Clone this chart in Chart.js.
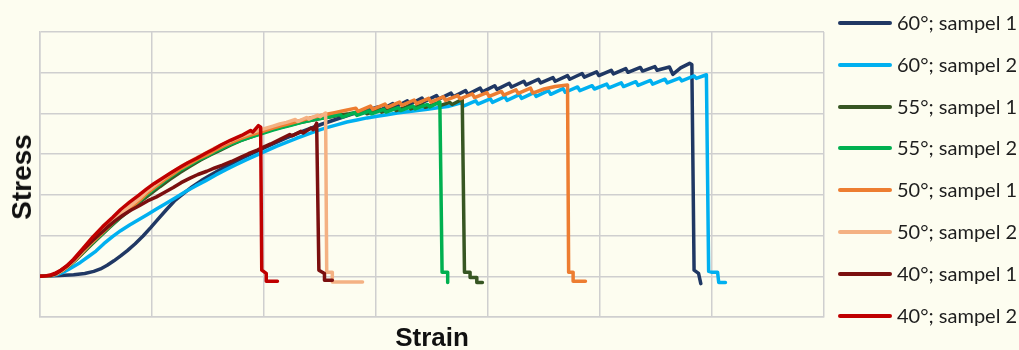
<!DOCTYPE html>
<html>
<head>
<meta charset="utf-8">
<script src="https://cdn.jsdelivr.net/npm/chart.js@4/dist/chart.umd.min.js"></script>
<style>
  body { margin:0; background:#fdfdf0; }
  #wrap { position:relative; width:1019px; height:350px; overflow:hidden; }
  #grafica { position:absolute; left:0; top:0; }
  .ttl { position:absolute; font-family:"Liberation Sans", Arial, sans-serif; font-weight:bold; color:#111; white-space:nowrap; }
  #legend { position:absolute; left:838px; top:0; font-family:Lato, "Noto Sans", sans-serif; font-size:20px; color:#1e1e1e; }
  .item { position:absolute; left:0; height:20px; white-space:nowrap; }
  .item span.ln { position:absolute; left:0; top:8px; width:54px; height:4px; border-radius:2px; }
  .item span.tx { position:absolute; left:59px; top:-3px; line-height:24px; }
</style>
</head>
<body>
<div id="wrap">
  <canvas id="grafica" width="1019" height="350"></canvas>
  <div class="ttl" id="ytitle" style="font-size:28px; left:22px; top:177px; transform:translate(-50%,-50%) rotate(-90deg);">Stress</div>
  <div class="ttl" id="xtitle" style="font-size:26px; left:432px; top:337px; transform:translate(-50%,-50%);">Strain</div>
  <div id="legend"></div>
</div>
<script>
// series names and colours (legend order)
const nombres = ["60°; sampel 1","60°; sampel 2","55°; sampel 1","55°; sampel 2","50°; sampel 1","50°; sampel 2","40°; sampel 1","40°; sampel 2"];
const colores = ["#203864","#00b0f0","#375623","#00b050","#ed7d31","#f4b183","#7b0f0f","#c00000"];

// 60° sampel 1
const strain60a = [0,0.18,0.30,0.40,0.48,0.54,0.60,0.66,0.72,0.78,0.85,0.92,0.99,1.06,1.13,1.20,1.28,1.36,1.44,1.52,1.61,1.70,1.79,1.88,
  2.04,2.20,2.36,2.52,2.66,2.78,2.90,
  3.02,3.04,3.15,3.17,3.28,3.30,3.41,3.43,3.54,3.56,3.67,3.69,3.80,3.82,3.93,3.95,4.06,4.08,4.19,4.21,4.32,4.34,4.45,4.47,
  4.58,4.60,4.71,4.73,4.84,4.86,4.97,4.99,5.10,5.12,5.23,5.25,5.36,5.38,5.49,5.51,5.62,5.65,5.72,5.80,5.82,5.84,5.88,5.90];
const stress60a = [0,0.02,0.04,0.07,0.12,0.18,0.27,0.38,0.50,0.63,0.80,0.99,1.20,1.42,1.64,1.85,2.03,2.20,2.35,2.48,2.62,2.75,2.88,3.00,
  3.20,3.40,3.58,3.74,3.87,3.98,4.07,
  4.16,4.08,4.24,4.15,4.31,4.22,4.38,4.29,4.44,4.35,4.50,4.41,4.56,4.47,4.62,4.53,4.68,4.59,4.74,4.65,4.79,4.70,4.84,4.75,
  4.88,4.79,4.93,4.84,4.98,4.89,5.02,4.93,5.06,4.97,5.10,5.01,5.13,5.04,5.15,5.06,5.14,4.96,5.12,5.23,5.20,0.15,0.07,-0.18];

// 60° sampel 2
const strain60b = [0,0.10,0.15,0.20,0.25,0.30,0.36,0.43,0.50,0.57,0.65,0.72,0.80,0.88,0.96,1.04,1.12,1.21,1.30,1.39,1.48,1.57,1.66,1.75,1.84,1.93,
  2.02,2.11,2.20,2.29,2.38,2.47,2.56,2.65,2.74,2.83,2.92,3.01,3.10,3.19,3.28,3.37,3.46,3.55,3.64,
  3.76,3.78,3.89,3.91,4.02,4.04,4.15,4.17,4.28,4.30,4.41,4.43,4.54,4.56,4.67,4.69,4.80,4.82,4.93,4.95,5.06,5.08,
  5.19,5.21,5.32,5.34,5.45,5.47,5.58,5.60,5.71,5.73,5.84,5.86,5.95,5.97,6.00,6.05,6.06,6.12];
const stress60b = [0,0.01,0.04,0.09,0.16,0.24,0.34,0.48,0.62,0.80,0.98,1.12,1.26,1.39,1.52,1.65,1.78,1.93,2.08,2.22,2.35,2.49,2.62,2.74,2.86,2.97,
  3.08,3.19,3.29,3.39,3.48,3.57,3.65,3.72,3.79,3.84,3.89,3.93,3.97,4.01,4.04,4.07,4.10,4.14,4.17,
  4.26,4.18,4.31,4.23,4.36,4.27,4.41,4.32,4.46,4.37,4.51,4.42,4.56,4.47,4.61,4.52,4.65,4.56,4.68,4.60,4.72,4.63,
  4.75,4.66,4.78,4.69,4.81,4.72,4.84,4.75,4.87,4.80,4.92,4.86,4.95,0.12,0.10,0.10,-0.15,-0.15];

// 55° sampel 1
const strain55a = [0,0.05,0.10,0.15,0.20,0.26,0.32,0.39,0.46,0.54,0.62,0.71,0.80,0.89,0.98,1.07,1.16,1.25,1.34,1.43,1.52,1.61,1.70,1.79,1.88,1.97,
  2.06,2.15,2.24,2.33,2.42,2.51,2.60,2.68,2.76,
  2.90,2.92,3.03,3.05,3.16,3.18,3.29,3.31,3.42,3.44,3.55,3.57,3.66,3.68,3.77,3.79,3.84,3.84,3.90,3.90,3.95];
const stress55a = [0,0.01,0.02,0.06,0.14,0.26,0.40,0.59,0.78,0.99,1.20,1.42,1.62,1.82,2.01,2.20,2.38,2.55,2.70,2.85,2.98,3.10,3.22,3.33,3.42,3.51,
  3.59,3.66,3.72,3.78,3.83,3.88,3.92,3.96,3.99,
  4.06,3.99,4.10,4.03,4.14,4.07,4.18,4.11,4.22,4.15,4.26,4.19,4.27,4.22,4.35,0.10,0.10,-0.03,-0.03,-0.15,-0.15];

// 55° sampel 2
const strain55b = [0,0.05,0.10,0.15,0.20,0.26,0.32,0.39,0.46,0.53,0.60,0.67,0.75,0.82,0.89,0.96,1.04,1.11,1.19,1.26,1.34,1.41,1.49,1.56,1.64,1.71,
  1.79,1.86,1.94,2.01,2.08,2.16,2.24,2.32,2.40,2.48,2.56,
  2.68,2.70,2.81,2.83,2.94,2.96,3.07,3.09,3.20,3.22,3.33,3.35,3.46,3.48,3.57,3.59,3.64,3.64];
const stress55b = [0,0.01,0.02,0.06,0.14,0.26,0.41,0.61,0.80,0.98,1.16,1.34,1.53,1.69,1.85,2.02,2.19,2.34,2.49,2.62,2.74,2.85,2.95,3.06,3.16,3.25,
  3.33,3.40,3.47,3.53,3.59,3.65,3.71,3.77,3.82,3.86,3.90,
  3.98,3.91,4.02,3.95,4.06,3.99,4.10,4.03,4.14,4.07,4.18,4.11,4.22,4.16,4.28,0.10,0.10,-0.15];

// 50° sampel 1
const strain50a = [0,0.05,0.10,0.15,0.20,0.26,0.32,0.39,0.46,0.53,0.60,0.67,0.75,0.82,0.89,0.96,1.04,1.11,1.19,1.26,1.34,1.41,1.49,1.56,1.64,1.71,
  1.79,1.86,1.94,2.01,2.08,2.16,2.24,2.32,2.40,2.48,2.56,2.63,2.70,
  2.82,2.84,2.95,2.97,3.08,3.10,3.21,3.23,3.34,3.36,3.47,3.49,3.60,3.62,3.73,3.75,3.86,3.88,3.99,4.01,4.12,4.14,
  4.25,4.27,4.38,4.40,4.50,4.60,4.71,4.72,4.76,4.76,4.87];
const stress50a = [0,0.01,0.02,0.06,0.14,0.27,0.42,0.62,0.82,1.00,1.18,1.37,1.55,1.71,1.87,2.05,2.22,2.37,2.52,2.65,2.77,2.88,2.98,3.09,3.20,3.29,
  3.38,3.45,3.52,3.58,3.64,3.70,3.76,3.82,3.88,3.93,3.98,4.02,4.06,
  4.13,4.05,4.18,4.10,4.23,4.15,4.28,4.20,4.33,4.24,4.37,4.28,4.41,4.32,4.44,4.36,4.48,4.39,4.51,4.42,4.54,4.45,
  4.58,4.49,4.62,4.50,4.60,4.66,4.70,0.10,0.10,-0.12,-0.12];

// 50° sampel 2
const strain50b = [0,0.05,0.10,0.15,0.20,0.26,0.32,0.39,0.46,0.53,0.60,0.67,0.75,0.82,0.89,0.96,1.04,1.11,1.19,1.26,1.34,1.41,1.49,1.56,1.64,1.71,
  1.79,1.86,1.94,2.01,2.08,2.14,2.20,
  2.28,2.30,2.38,2.40,2.48,2.50,2.55,2.56,2.61,2.61,2.88];
const stress50b = [0,0.01,0.02,0.06,0.15,0.28,0.44,0.65,0.85,1.04,1.22,1.41,1.60,1.76,1.92,2.10,2.27,2.42,2.57,2.70,2.82,2.93,3.04,3.15,3.25,3.34,
  3.43,3.50,3.57,3.63,3.69,3.74,3.78,
  3.85,3.80,3.90,3.86,3.96,3.92,4.01,0.10,0.10,-0.14,-0.14];

// 40° sampel 1
const strain40a = [0,0.05,0.10,0.14,0.18,0.24,0.30,0.38,0.47,0.54,0.60,0.67,0.74,0.81,0.89,0.96,1.04,1.11,1.19,1.26,1.34,1.41,1.49,1.56,1.63,1.71,
  1.79,1.86,1.94,2.00,2.06,2.14,
  2.23,2.25,2.33,2.35,2.42,2.44,2.47,2.49,2.54,2.54,2.61];
const stress40a = [0,0.01,0.02,0.06,0.13,0.25,0.40,0.64,0.88,1.05,1.20,1.36,1.50,1.62,1.74,1.85,1.95,2.06,2.18,2.30,2.41,2.50,2.58,2.66,2.73,2.82,
  2.92,3.01,3.10,3.18,3.25,3.36,
  3.48,3.45,3.56,3.52,3.64,3.60,3.76,0.15,0.07,-0.10,-0.10];

// 40° sampel 2
const strain40b = [0,0.05,0.09,0.13,0.18,0.24,0.30,0.38,0.47,0.56,0.65,0.72,0.80,0.88,0.95,1.02,1.10,1.18,1.25,1.32,1.40,1.48,1.55,1.62,1.70,1.80,
  1.88,1.90,1.95,1.97,1.98,2.02,2.02,2.12];
const stress40b = [0,0.01,0.03,0.07,0.14,0.26,0.42,0.67,0.96,1.22,1.45,1.64,1.82,1.99,2.14,2.28,2.42,2.56,2.68,2.79,2.90,3.02,3.12,3.23,3.34,3.46,
  3.58,3.54,3.70,3.66,0.15,0.07,-0.12,-0.12];

const seriesX = [strain60a,strain60b,strain55a,strain55b,strain50a,strain50b,strain40a,strain40b];
const seriesY = [stress60a,stress60b,stress55a,stress55b,stress50a,stress50b,stress40a,stress40b];

const datasets = nombres.map(function(n,i){
  return {
    label: n,
    data: seriesX[i].map(function(x,k){ return {x:x, y:seriesY[i][k]}; }),
    borderColor: colores[i],
    backgroundColor: colores[i],
    borderWidth: 3.5,
    pointRadius: 0,
    tension: 0,
    fill: false,
    borderJoinStyle: 'round',
    borderCapStyle: 'round',
    order: nombres.length - i   // last series on top, like the original
  };
});

const ctx = document.getElementById("grafica").getContext("2d");
const grafica = new Chart(ctx, {
  type: 'line',
  data: { datasets: datasets },
  options: {
    responsive: false,
    animation: false,
    devicePixelRatio: 1,
    layout: { padding: { left:40, right:195, top:32, bottom:33 } },
    plugins: { legend: { display:false }, tooltip: { enabled:false } },
    scales: {
      x: {
        type: 'linear', min:0, max:7,
        ticks: { display:false, stepSize:1 },
        grid: { color:'#cfcfcf', lineWidth:1.5, drawTicks:false },
        border: { display:true, color:'#cfcfcf', width:1.5 }
      },
      y: {
        type: 'linear', min:-1, max:6,
        ticks: { display:false, stepSize:1 },
        grid: { color:'#cfcfcf', lineWidth:1.5, drawTicks:false },
        border: { display:true, color:'#cfcfcf', width:1.5 }
      }
    }
  }
});

// legend built from the same names/colours
const leg = document.getElementById("legend");
nombres.forEach(function(n,i){
  const d = document.createElement("div");
  d.className = "item";
  d.style.top = (13 + i*41.8) + "px";
  d.innerHTML = '<span class="ln" style="background:' + colores[i] + '"></span><span class="tx">' + n + '</span>';
  leg.appendChild(d);
});
</script>
</body>
</html>
